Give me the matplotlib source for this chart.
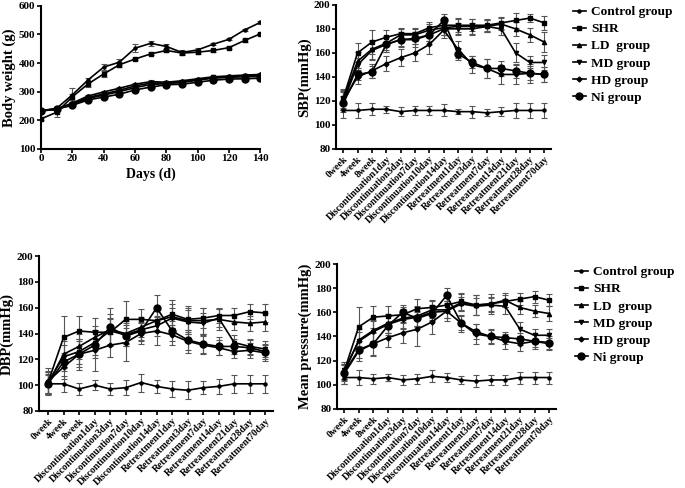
import matplotlib
matplotlib.use('Agg')
import matplotlib.pyplot as plt
from matplotlib.lines import Line2D

plt.rcParams['font.family'] = ['Liberation Serif', 'DejaVu Serif']
plt.rcParams['font.weight'] = 'bold'
plt.rcParams['axes.labelweight'] = 'bold'

# ---------------- data ----------------
groups = ["Control group", "SHR", "LD  group", "MD group", "HD group", "Ni group"]
group_markers = ['o', 's', '^', 'v', 'D', 'o']
group_msizes = [2.2, 3.0, 3.0, 3.0, 2.5, 5.0]

timepoints = ["0week", "4week", "8week", "Discontinuation1day", "Discontinuation3day",
              "Discontinuation7day", "Discontinuation10day", "Discontinuation14day",
              "Retreatment1day", "Retreatment3day", "Retreatment7day", "Retreatment14day",
              "Retreatment21day", "Retreatment28day", "Retreatment70day"]

# Body weight (g) vs days
bw_days = [0, 10, 20, 30, 40, 50, 60, 70, 80, 90, 100, 110, 120, 130, 140]
bw_control = [233, 242, 289, 341, 386, 403, 452, 469, 458, 437, 446, 466, 483, 516, 542]
bw_shr = [205, 228, 282, 327, 362, 394, 414, 432, 444, 435, 438, 444, 454, 479, 502]
bw_ld = [233, 240, 260, 285, 299, 312, 326, 335, 333, 338, 345, 352, 355, 358, 360]
bw_md = [233, 238, 256, 280, 292, 305, 320, 330, 330, 335, 342, 350, 352, 355, 356]
bw_hd = [233, 238, 255, 276, 288, 300, 314, 325, 328, 332, 340, 347, 350, 352, 353]
bw_ni = [233, 240, 252, 271, 281, 291, 306, 316, 324, 326, 333, 340, 344, 345, 347]
bw_control_err = [5, 5, 25, 8, 12, 10, 15, 8, 10, 8, 5, 4, 4, 4, 4]
bw_shr_err = [5, 18, 10, 10, 10, 8, 5, 5, 5, 5, 5, 5, 4, 4, 4]
bw_ld_err = [4, 4, 5, 5, 5, 5, 5, 4, 4, 4, 4, 4, 4, 4, 4]
bw_md_err = [4, 4, 5, 5, 5, 5, 5, 4, 4, 4, 4, 4, 4, 4, 4]
bw_hd_err = [4, 4, 5, 5, 5, 5, 5, 4, 4, 4, 4, 4, 4, 4, 4]
bw_ni_err = [4, 4, 5, 5, 5, 5, 5, 4, 4, 4, 4, 4, 4, 4, 4]

# SBP (mmHg)
sbp_control = [112, 112, 113, 113, 111, 112, 112, 112, 111, 111, 110, 111, 112, 112, 112]
sbp_shr = [122, 160, 169, 173, 176, 176, 181, 183, 183, 183, 183, 185, 187, 189, 185]
sbp_ld = [121, 153, 163, 168, 175, 175, 179, 181, 182, 182, 182, 184, 180, 175, 169]
sbp_md = [119, 150, 162, 167, 171, 171, 175, 180, 180, 180, 182, 180, 160, 152, 152]
sbp_hd = [120, 140, 145, 151, 156, 160, 167, 179, 163, 150, 147, 142, 142, 143, 142]
sbp_ni = [118, 142, 144, 167, 171, 172, 175, 187, 159, 152, 147, 147, 145, 143, 142]
sbp_control_err = [6, 6, 5, 3, 4, 4, 4, 5, 2, 5, 3, 4, 6, 6, 6]
sbp_shr_err = [8, 8, 10, 6, 5, 5, 5, 5, 6, 5, 5, 5, 6, 3, 6]
sbp_ld_err = [8, 8, 8, 6, 5, 5, 5, 6, 6, 6, 5, 5, 6, 6, 8]
sbp_md_err = [8, 6, 8, 6, 6, 6, 5, 5, 5, 5, 5, 5, 8, 5, 6]
sbp_hd_err = [8, 6, 6, 6, 7, 7, 8, 7, 7, 7, 8, 8, 8, 8, 6]
sbp_ni_err = [6, 5, 5, 6, 5, 5, 5, 5, 5, 5, 8, 6, 6, 6, 6]

# DBP (mmHg)
dbp_control = [101, 101, 97, 100, 97, 98, 102, 99, 97, 96, 98, 99, 101, 101, 101]
dbp_shr = [102, 137, 142, 141, 141, 151, 151, 150, 155, 151, 152, 154, 154, 157, 156]
dbp_ld = [101, 124, 130, 137, 143, 140, 145, 150, 153, 150, 150, 151, 149, 148, 149]
dbp_md = [102, 122, 126, 133, 142, 139, 143, 146, 152, 149, 148, 152, 133, 130, 128]
dbp_hd = [103, 114, 124, 127, 131, 133, 140, 142, 139, 134, 131, 129, 126, 127, 125]
dbp_ni = [101, 118, 124, 131, 145, 138, 142, 160, 142, 135, 132, 130, 130, 129, 126]
dbp_control_err = [7, 6, 5, 4, 5, 6, 7, 5, 6, 7, 5, 6, 7, 7, 7]
dbp_shr_err = [8, 17, 12, 11, 10, 14, 8, 8, 11, 10, 8, 6, 6, 6, 7]
dbp_ld_err = [9, 10, 10, 9, 12, 10, 8, 9, 10, 10, 10, 8, 6, 6, 7]
dbp_md_err = [9, 9, 10, 10, 10, 9, 9, 8, 8, 9, 8, 7, 6, 6, 6]
dbp_hd_err = [10, 9, 12, 16, 9, 14, 8, 11, 8, 9, 7, 6, 5, 6, 6]
dbp_ni_err = [8, 7, 10, 10, 15, 6, 7, 10, 8, 8, 7, 7, 6, 6, 6]

# Mean pressure (mmHg)
mp_control = [106, 106, 105, 106, 104, 105, 107, 106, 104, 103, 104, 104, 106, 106, 106]
mp_shr = [111, 148, 156, 157, 158, 163, 164, 166, 169, 166, 167, 169, 171, 173, 170]
mp_ld = [110, 137, 145, 151, 155, 157, 162, 162, 168, 166, 167, 170, 164, 161, 159]
mp_md = [112, 136, 144, 150, 154, 156, 160, 161, 167, 165, 166, 165, 146, 141, 141]
mp_hd = [109, 128, 134, 139, 143, 146, 152, 161, 151, 142, 140, 136, 134, 136, 134]
mp_ni = [110, 129, 134, 149, 160, 155, 159, 174, 151, 144, 140, 139, 138, 136, 135]
mp_control_err = [5, 6, 4, 3, 4, 4, 5, 4, 3, 5, 4, 4, 5, 5, 5]
mp_shr_err = [6, 16, 9, 8, 6, 8, 6, 6, 7, 8, 6, 5, 5, 5, 5]
mp_ld_err = [7, 9, 9, 8, 8, 8, 7, 7, 7, 8, 8, 6, 5, 5, 6]
mp_md_err = [7, 8, 9, 7, 8, 8, 6, 6, 6, 7, 6, 6, 6, 5, 5]
mp_hd_err = [8, 8, 9, 8, 8, 14, 10, 8, 7, 8, 6, 6, 6, 6, 5]
mp_ni_err = [6, 7, 10, 8, 6, 6, 6, 6, 6, 6, 5, 5, 5, 5, 5]

# ---------------- drawing ----------------
fig = plt.figure(figsize=(6.85, 4.88), dpi=100)

ax_bw = fig.add_axes([0.060, 0.695, 0.320, 0.293])
ax_sbp = fig.add_axes([0.4905, 0.695, 0.3135, 0.295])
ax_dbp = fig.add_axes([0.057, 0.158, 0.342, 0.317])
ax_mp = fig.add_axes([0.492, 0.162, 0.320, 0.297])

def style_axes(ax):
    for s in ['top', 'right']:
        ax.spines[s].set_visible(False)
    for s in ['left', 'bottom']:
        ax.spines[s].set_linewidth(1.5)
    ax.tick_params(direction='out', width=1.2, length=3, labelsize=8, pad=1)

def plot_series(ax, x, series, errs):
    for vals, err, m, ms in zip(series, errs, group_markers, group_msizes):
        ax.errorbar(x, vals, yerr=err, color='black', ecolor='#555555',
                    elinewidth=0.8, capsize=2, capthick=0.8, lw=1.2,
                    marker=m, ms=ms, mfc='black', mec='black', zorder=3)

# Body weight
plot_series(ax_bw, bw_days,
            [bw_control, bw_shr, bw_ld, bw_md, bw_hd, bw_ni],
            [bw_control_err, bw_shr_err, bw_ld_err, bw_md_err, bw_hd_err, bw_ni_err])
style_axes(ax_bw)
ax_bw.set_xlim(0, 140)
ax_bw.set_ylim(100, 600)
ax_bw.set_xticks(range(0, 141, 20))
ax_bw.set_yticks(range(100, 601, 100))
ax_bw.set_xlabel("Days (d)", fontsize=10, labelpad=3)
ax_bw.set_ylabel("Body weight (g)", fontsize=10.5, labelpad=2)

x = list(range(len(timepoints)))

def bp_panel(ax, series, errs, ylabel, xl):
    plot_series(ax, x, series, errs)
    style_axes(ax)
    ax.set_xlim(*xl)
    ax.set_ylim(80, 200)
    ax.set_yticks(range(80, 201, 20))
    ax.set_xticks(x)
    ax.set_xticklabels(timepoints, rotation=45, ha='right', rotation_mode='anchor', fontsize=7.0)
    ax.set_ylabel(ylabel, fontsize=10.5, labelpad=2)

bp_panel(ax_sbp, [sbp_control, sbp_shr, sbp_ld, sbp_md, sbp_hd, sbp_ni],
         [sbp_control_err, sbp_shr_err, sbp_ld_err, sbp_md_err, sbp_hd_err, sbp_ni_err],
         "SBP(mmHg)", (-0.5, 14.45))
bp_panel(ax_dbp, [dbp_control, dbp_shr, dbp_ld, dbp_md, dbp_hd, dbp_ni],
         [dbp_control_err, dbp_shr_err, dbp_ld_err, dbp_md_err, dbp_hd_err, dbp_ni_err],
         "DBP(mmHg)", (-0.58, 14.52))
bp_panel(ax_mp, [mp_control, mp_shr, mp_ld, mp_md, mp_hd, mp_ni],
         [mp_control_err, mp_shr_err, mp_ld_err, mp_md_err, mp_hd_err, mp_ni_err],
         "Mean pressure(mmHg)", (-0.48, 14.48))

handles = [Line2D([], [], color='black', lw=1.2, marker=m, ms=ms)
           for m, ms in zip(group_markers, group_msizes)]

leg_kw = dict(loc='upper left', bbox_transform=fig.transFigure, frameon=False,
              fontsize=9.6, handlelength=1.0, handletextpad=0.4, labelspacing=0.36,
              borderpad=0, borderaxespad=0)
fig.legend(handles, groups, bbox_to_anchor=(0.836, 0.988), **leg_kw)
fig.legend(handles, groups, bbox_to_anchor=(0.839, 0.455), **leg_kw)

fig.savefig("out.png", dpi=100)
